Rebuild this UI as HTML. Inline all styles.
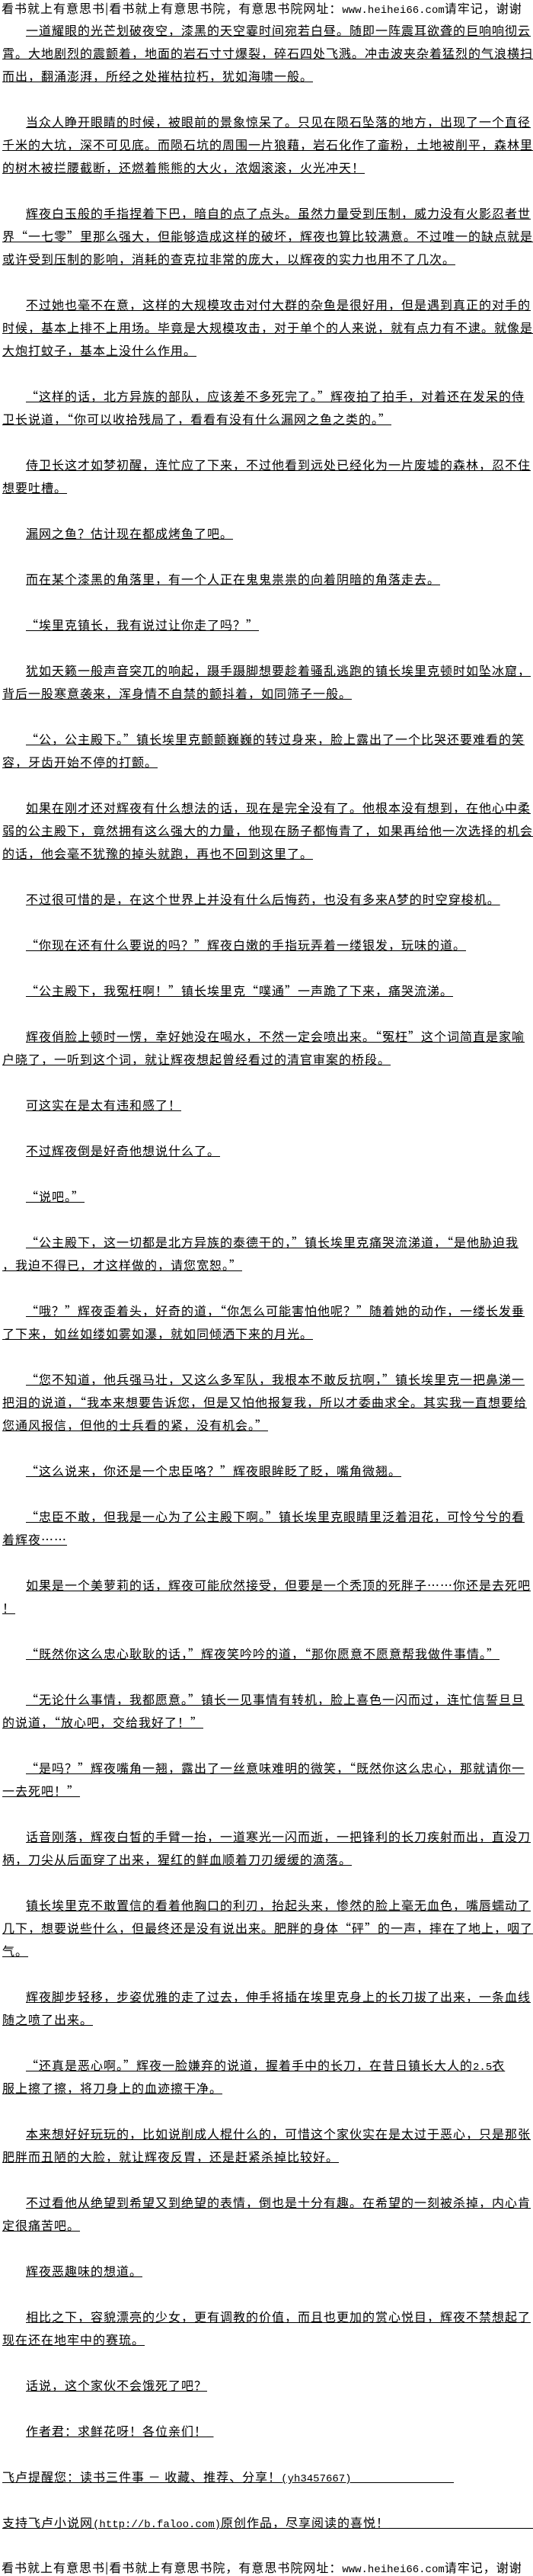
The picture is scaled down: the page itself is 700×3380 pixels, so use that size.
<!DOCTYPE html>
<html><head><meta charset="utf-8">
<style>
html,body{margin:0;padding:0;background:#fff;}
body{width:700px;height:3380px;overflow:hidden;position:relative;color:#000;
font-family:"Noto Sans CJK SC","Liberation Sans",sans-serif;font-size:16px;letter-spacing:1px;}
.hd{position:absolute;left:2px;width:698px;white-space:nowrap;overflow:hidden;height:20px;line-height:20px;}
.m{font-family:"Liberation Mono","Noto Sans CJK SC",monospace;font-size:14px;letter-spacing:0;}
#c{position:absolute;left:0;top:24px;width:700px;}
#c div{height:30px;line-height:30px;white-space:nowrap;overflow:hidden;padding-left:3px;}
#c div.i{padding-left:34px;}
#c span{text-decoration:underline;}
</style></head><body>
<div class="hd" style="top:0">看书就上有意思书|看书就上有意思书院，有意思书院网址：<span class="m">www.heihei66.com</span>请牢记，谢谢</div>
<div id="c">
<div class="i"><span>一道耀眼的光芒划破夜空，漆黑的天空霎时间宛若白昼。随即一阵震耳欲聋的巨响响彻云</span></div>
<div><span>霄。大地剧烈的震颤着，地面的岩石寸寸爆裂，碎石四处飞溅。冲击波夹杂着猛烈的气浪横扫</span></div>
<div><span>而出，翻涌澎湃，所经之处摧枯拉朽，犹如海啸一般。</span></div>
<div></div>
<div class="i"><span>当众人睁开眼睛的时候，被眼前的景象惊呆了。只见在陨石坠落的地方，出现了一个直径</span></div>
<div><span>千米的大坑，深不可见底。而陨石坑的周围一片狼藉，岩石化作了齑粉，土地被削平，森林里</span></div>
<div><span>的树木被拦腰截断，还燃着熊熊的大火，浓烟滚滚，火光冲天！</span></div>
<div></div>
<div class="i"><span>辉夜白玉般的手指捏着下巴，暗自的点了点头。虽然力量受到压制，威力没有火影忍者世</span></div>
<div><span>界“一七零”里那么强大，但能够造成这样的破坏，辉夜也算比较满意。不过唯一的缺点就是</span></div>
<div><span>或许受到压制的影响，消耗的查克拉非常的庞大，以辉夜的实力也用不了几次。</span></div>
<div></div>
<div class="i"><span>不过她也毫不在意，这样的大规模攻击对付大群的杂鱼是很好用，但是遇到真正的对手的</span></div>
<div><span>时候，基本上排不上用场。毕竟是大规模攻击，对于单个的人来说，就有点力有不逮。就像是</span></div>
<div><span>大炮打蚊子，基本上没什么作用。</span></div>
<div></div>
<div class="i"><span>“这样的话，北方异族的部队，应该差不多死完了。”辉夜拍了拍手，对着还在发呆的侍</span></div>
<div><span>卫长说道，“你可以收拾残局了，看看有没有什么漏网之鱼之类的。”</span></div>
<div></div>
<div class="i"><span>侍卫长这才如梦初醒，连忙应了下来，不过他看到远处已经化为一片废墟的森林，忍不住</span></div>
<div><span>想要吐槽。</span></div>
<div></div>
<div class="i"><span>漏网之鱼？估计现在都成烤鱼了吧。</span></div>
<div></div>
<div class="i"><span>而在某个漆黑的角落里，有一个人正在鬼鬼祟祟的向着阴暗的角落走去。</span></div>
<div></div>
<div class="i"><span>“埃里克镇长，我有说过让你走了吗？”</span></div>
<div></div>
<div class="i"><span>犹如天籁一般声音突兀的响起，蹑手蹑脚想要趁着骚乱逃跑的镇长埃里克顿时如坠冰窟，</span></div>
<div><span>背后一股寒意袭来，浑身情不自禁的颤抖着，如同筛子一般。</span></div>
<div></div>
<div class="i"><span>“公，公主殿下。”镇长埃里克颤颤巍巍的转过身来，脸上露出了一个比哭还要难看的笑</span></div>
<div><span>容，牙齿开始不停的打颤。</span></div>
<div></div>
<div class="i"><span>如果在刚才还对辉夜有什么想法的话，现在是完全没有了。他根本没有想到，在他心中柔</span></div>
<div><span>弱的公主殿下，竟然拥有这么强大的力量，他现在肠子都悔青了，如果再给他一次选择的机会</span></div>
<div><span>的话，他会毫不犹豫的掉头就跑，再也不回到这里了。</span></div>
<div></div>
<div class="i"><span>不过很可惜的是，在这个世界上并没有什么后悔药，也没有多来A梦的时空穿梭机。</span></div>
<div></div>
<div class="i"><span>“你现在还有什么要说的吗？”辉夜白嫩的手指玩弄着一缕银发，玩味的道。</span></div>
<div></div>
<div class="i"><span>“公主殿下，我冤枉啊！”镇长埃里克“噗通”一声跪了下来，痛哭流涕。</span></div>
<div></div>
<div class="i"><span>辉夜俏脸上顿时一愣，幸好她没在喝水，不然一定会喷出来。“冤枉”这个词简直是家喻</span></div>
<div><span>户晓了，一听到这个词，就让辉夜想起曾经看过的清官审案的桥段。</span></div>
<div></div>
<div class="i"><span>可这实在是太有违和感了！</span></div>
<div></div>
<div class="i"><span>不过辉夜倒是好奇他想说什么了。</span></div>
<div></div>
<div class="i"><span>“说吧。”</span></div>
<div></div>
<div class="i"><span>“公主殿下，这一切都是北方异族的泰德干的，”镇长埃里克痛哭流涕道，“是他胁迫我</span></div>
<div><span>，我迫不得已，才这样做的，请您宽恕。”</span></div>
<div></div>
<div class="i"><span>“哦？”辉夜歪着头，好奇的道，“你怎么可能害怕他呢？”随着她的动作，一缕长发垂</span></div>
<div><span>了下来，如丝如缕如雾如瀑，就如同倾洒下来的月光。</span></div>
<div></div>
<div class="i"><span>“您不知道，他兵强马壮，又这么多军队，我根本不敢反抗啊，”镇长埃里克一把鼻涕一</span></div>
<div><span>把泪的说道，“我本来想要告诉您，但是又怕他报复我，所以才委曲求全。其实我一直想要给</span></div>
<div><span>您通风报信，但他的士兵看的紧，没有机会。”</span></div>
<div></div>
<div class="i"><span>“这么说来，你还是一个忠臣咯？”辉夜眼眸眨了眨，嘴角微翘。</span></div>
<div></div>
<div class="i"><span>“忠臣不敢，但我是一心为了公主殿下啊。”镇长埃里克眼睛里泛着泪花，可怜兮兮的看</span></div>
<div><span>着辉夜……</span></div>
<div></div>
<div class="i"><span>如果是一个美萝莉的话，辉夜可能欣然接受，但要是一个秃顶的死胖子……你还是去死吧</span></div>
<div><span>！</span></div>
<div></div>
<div class="i"><span>“既然你这么忠心耿耿的话，”辉夜笑吟吟的道，“那你愿意不愿意帮我做件事情。”</span></div>
<div></div>
<div class="i"><span>“无论什么事情，我都愿意。”镇长一见事情有转机，脸上喜色一闪而过，连忙信誓旦旦</span></div>
<div><span>的说道，“放心吧，交给我好了！”</span></div>
<div></div>
<div class="i"><span>“是吗？”辉夜嘴角一翘，露出了一丝意味难明的微笑，“既然你这么忠心，那就请你一</span></div>
<div><span>一去死吧！”</span></div>
<div></div>
<div class="i"><span>话音刚落，辉夜白皙的手臂一抬，一道寒光一闪而逝，一把锋利的长刀疾射而出，直没刀</span></div>
<div><span>柄，刀尖从后面穿了出来，猩红的鲜血顺着刀刃缓缓的滴落。</span></div>
<div></div>
<div class="i"><span>镇长埃里克不敢置信的看着他胸口的利刃，抬起头来，惨然的脸上毫无血色，嘴唇蠕动了</span></div>
<div><span>几下，想要说些什么，但最终还是没有说出来。肥胖的身体“砰”的一声，摔在了地上，咽了</span></div>
<div><span>气。</span></div>
<div></div>
<div class="i"><span>辉夜脚步轻移，步姿优雅的走了过去，伸手将插在埃里克身上的长刀拔了出来，一条血线</span></div>
<div><span>随之喷了出来。</span></div>
<div></div>
<div class="i"><span>“还真是恶心啊。”辉夜一脸嫌弃的说道，握着手中的长刀，在昔日镇长大人的<span class="m">2.5</span>衣</span></div>
<div><span>服上擦了擦，将刀身上的血迹擦干净。</span></div>
<div></div>
<div class="i"><span>本来想好好玩玩的，比如说削成人棍什么的，可惜这个家伙实在是太过于恶心，只是那张</span></div>
<div><span>肥胖而丑陋的大脸，就让辉夜反胃，还是赶紧杀掉比较好。</span></div>
<div></div>
<div class="i"><span>不过看他从绝望到希望又到绝望的表情，倒也是十分有趣。在希望的一刻被杀掉，内心肯</span></div>
<div><span>定很痛苦吧。</span></div>
<div></div>
<div class="i"><span>辉夜恶趣味的想道。</span></div>
<div></div>
<div class="i"><span>相比之下，容貌漂亮的少女，更有调教的价值，而且也更加的赏心悦目，辉夜不禁想起了</span></div>
<div><span>现在还在地牢中的赛琉。</span></div>
<div></div>
<div class="i"><span>话说，这个家伙不会饿死了吧？</span></div>
<div></div>
<div class="i"><span>作者君：求鲜花呀！各位亲们！<span class="m">_</span></span></div>
<div></div>
<div><span>飞卢提醒您：读书三件事 － 收藏、推荐、分享！<span class="m">(yh3457667)________________</span></span></div>
<div></div>
<div><span>支持飞卢小说网<span class="m">(http://b.faloo.com)</span>原创作品，尽享阅读的喜悦！<span class="m">________________________</span></span></div>
<div></div>
</div>
<div class="hd" style="top:3358px">看书就上有意思书|看书就上有意思书院，有意思书院网址：<span class="m">www.heihei66.com</span>请牢记，谢谢</div>
</body></html>
